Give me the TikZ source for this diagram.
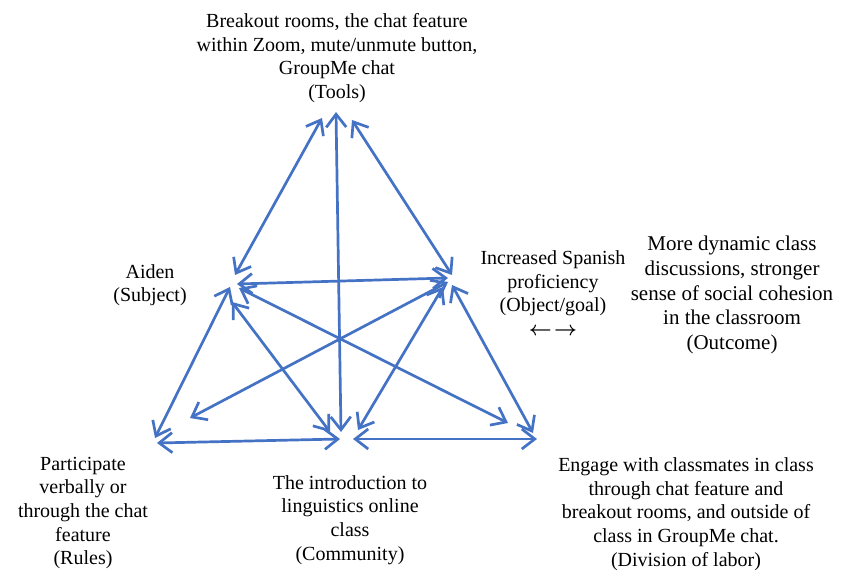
\documentclass[tikz,border=0pt]{standalone}
\usepackage{amsmath}
\usepackage{fontspec}
\setmainfont{Liberation Serif}
\usetikzlibrary{arrows.meta,positioning}
\definecolor{linkblue}{RGB}{68,114,196}

\begin{document}
\begin{tikzpicture}[x=0.5pt,y=-0.5pt,
  lbl/.style={align=center,inner sep=0pt,font=\fontsize{10}{11.8}\selectfont},
  rel/.style={{Straight Barb[length=6.5pt,width=10pt]}-{Straight Barb[length=6.5pt,width=10pt]},line width=1.35pt,draw=linkblue}]
  \useasboundingbox (0,0) rectangle (856,571);
  \coordinate (t1) at (322,118);
  \coordinate (t2) at (336,112);
  \coordinate (t3) at (352,120);
  \coordinate (s1) at (235,275);
  \coordinate (s2) at (237,284);
  \coordinate (s3) at (230,287);
  \coordinate (s4) at (232,302);
  \coordinate (s5) at (239,288);
  \coordinate (o1) at (452,275);
  \coordinate (o2) at (448,278);
  \coordinate (o3) at (448,282);
  \coordinate (o4) at (443,287);
  \coordinate (o5) at (452,285);
  \coordinate (r1) at (155,438);
  \coordinate (r2) at (190,418);
  \coordinate (r3) at (157,443);
  \coordinate (c1) at (330,432);
  \coordinate (c2) at (341,432);
  \coordinate (c3) at (358,430);
  \coordinate (c4) at (340,439);
  \coordinate (c5) at (353,439);
  \coordinate (d1) at (508,423);
  \coordinate (d2) at (533,433);
  \coordinate (d3) at (537,439);
  \node[lbl] (tools) at (337,58) {Breakout rooms, the chat feature\\within Zoom, mute/unmute button,\\GroupMe chat\\(Tools)};
  \node[lbl] (subj) at (150,285) {Aiden\\(Subject)};
  \node[lbl] (obj) at (553,293) {Increased Spanish\\proficiency\\(Object/goal)\\$\boldsymbol{\leftarrow}\mkern2mu\boldsymbol{\rightarrow}$};
  \node[lbl,font=\fontsize{10.5}{12.4}\selectfont] (outc) at (732,295) {More dynamic class\\discussions, stronger\\sense of social cohesion\\in the classroom\\(Outcome)};
  \node[lbl] (rules) at (83,513) {Participate\\verbally or\\through the chat\\feature\\(Rules)};
  \node[lbl] (comm) at (350,520) {The introduction to\\linguistics online\\class\\(Community)};
  \node[lbl] (div) at (686,514) {Engage with classmates in class\\through chat feature and\\breakout rooms, and outside of\\class in GroupMe chat.\\(Division of labor)};
  \draw[rel] (t1) -- (s1);
  \draw[rel] (t3) -- (o1);
  \draw[rel] (t2) -- (c2);
  \draw[rel] (s2) -- (o2);
  \draw[rel] (s3) -- (r1);
  \draw[rel] (s4) -- (c1);
  \draw[rel] (s5) -- (d1);
  \draw[rel] (o3) -- (r2);
  \draw[rel] (o4) -- (c3);
  \draw[rel] (o5) -- (d2);
  \draw[rel] (r3) -- (c4);
  \draw[rel] (c5) -- (d3);
\end{tikzpicture}
\end{document}
